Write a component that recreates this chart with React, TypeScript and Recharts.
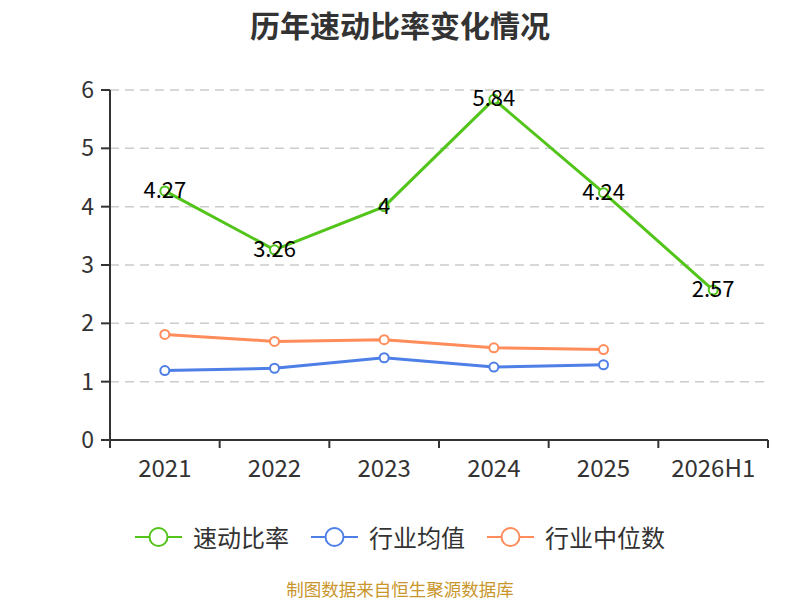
import { LineChart, Line, XAxis, YAxis, CartesianGrid, LabelList } from 'recharts';

const years = ['2021', '2022', '2023', '2024', '2025', '2026H1'];
const quickRatio = [4.27, 3.26, 4, 5.84, 4.24, 2.57];
const industryAvg = [1.19, 1.23, 1.41, 1.25, 1.29, null];
const industryMedian = [1.81, 1.69, 1.72, 1.58, 1.55, null];
const yTicks = [0, 1, 2, 3, 4, 5, 6];

const FONT = '"Noto Sans CJK SC", "Noto Sans", sans-serif';
const GREEN = '#52c41a';
const BLUE = '#4e7fe6';
const ORANGE = '#ff8c5a';

const data = years.map((year, i) => ({
  year,
  quick: quickRatio[i],
  avg: industryAvg[i],
  median: industryMedian[i],
}));

const legendItems = [
  { name: '速动比率', color: GREEN },
  { name: '行业均值', color: BLUE },
  { name: '行业中位数', color: ORANGE },
];

const PLOT_WIDTH = 658;

function XTick(props: any) {
  const { x, y, payload, index } = props;
  const half = payload && payload.offset ? payload.offset : PLOT_WIDTH / years.length / 2;
  return (
    <g>
      <line x1={x - half} x2={x - half} y1={y} y2={y + 8} stroke="#333" strokeWidth={2} />
      {index === years.length - 1 && (
        <line x1={x + half} x2={x + half} y1={y} y2={y + 8} stroke="#333" strokeWidth={2} />
      )}
      <text x={x} y={y + 26} textAnchor="middle" dominantBaseline="central" fill="#333" fontSize={24} fontFamily={FONT}>
        {payload.value}
      </text>
    </g>
  );
}

function ValueLabel(props: any) {
  const { x, y, value } = props;
  if (value == null) return null;
  return (
    <text x={x} y={y - 3} textAnchor="middle" dominantBaseline="central" fill="#000" fontSize={22} fontFamily={FONT}>
      {value}
    </text>
  );
}

function LegendIcon({ color }: { color: string }) {
  return (
    <svg width={47} height={24} style={{ display: 'block' }}>
      <line x1={0} x2={47} y1={12} y2={12} stroke={color} strokeWidth={2} />
      <circle cx={23.5} cy={12} r={9} fill="#fff" stroke={color} strokeWidth={2} />
    </svg>
  );
}

export default function App() {
  return (
    <div style={{ position: 'absolute', left: 0, top: 0, width: 800, height: 600, background: '#fff', fontFamily: FONT }}>
      <div
        style={{
          position: 'absolute',
          top: 2,
          left: 0,
          width: 800,
          textAlign: 'center',
          fontSize: 30,
          fontWeight: 'bold',
          color: '#333',
          lineHeight: '44px',
        }}
      >
        历年速动比率变化情况
      </div>
      <LineChart width={800} height={600} data={data} margin={{ top: 90, right: 32, left: 0, bottom: 0 }}>
        <CartesianGrid vertical={false} stroke="#ccc" strokeWidth={1.5} strokeDasharray="9 6" />
        <XAxis
          dataKey="year"
          scale="band"
          height={160}
          axisLine={{ stroke: '#333', strokeWidth: 2 }}
          tickLine={false}
          tickSize={0}
          tickMargin={0}
          tick={<XTick />}
          interval={0}
        />
        <YAxis
          width={110}
          domain={[0, 6]}
          ticks={yTicks}
          axisLine={{ stroke: '#333', strokeWidth: 2 }}
          tickLine={{ stroke: '#333', strokeWidth: 2 }}
          tickSize={9}
          tickMargin={7}
          tick={{ fill: '#333', fontSize: 23, fontFamily: FONT }}
        />
        <Line
          dataKey="quick"
          stroke={GREEN}
          strokeWidth={3}
          dot={{ r: 4.5, fill: '#fff', stroke: GREEN, strokeWidth: 2 }}
          isAnimationActive={false}
        >
          <LabelList dataKey="quick" content={<ValueLabel />} />
        </Line>
        <Line
          dataKey="avg"
          stroke={BLUE}
          strokeWidth={3}
          dot={{ r: 4.5, fill: '#fff', stroke: BLUE, strokeWidth: 2 }}
          isAnimationActive={false}
        />
        <Line
          dataKey="median"
          stroke={ORANGE}
          strokeWidth={3}
          dot={{ r: 4.5, fill: '#fff', stroke: ORANGE, strokeWidth: 2 }}
          isAnimationActive={false}
        />
      </LineChart>
      <div
        style={{
          position: 'absolute',
          top: 522,
          left: 0,
          width: 800,
          display: 'flex',
          justifyContent: 'center',
          alignItems: 'center',
          gap: 22,
        }}
      >
        {legendItems.map((item) => (
          <div key={item.name} style={{ display: 'flex', alignItems: 'center', gap: 11 }}>
            <LegendIcon color={item.color} />
            <span style={{ fontSize: 24, color: '#333', lineHeight: '30px' }}>{item.name}</span>
          </div>
        ))}
      </div>
      <div
        style={{
          position: 'absolute',
          top: 577,
          left: 0,
          width: 800,
          textAlign: 'center',
          fontSize: 17.5,
          color: '#c9962c',
          lineHeight: '24px',
        }}
      >
        制图数据来自恒生聚源数据库
      </div>
    </div>
  );
}
